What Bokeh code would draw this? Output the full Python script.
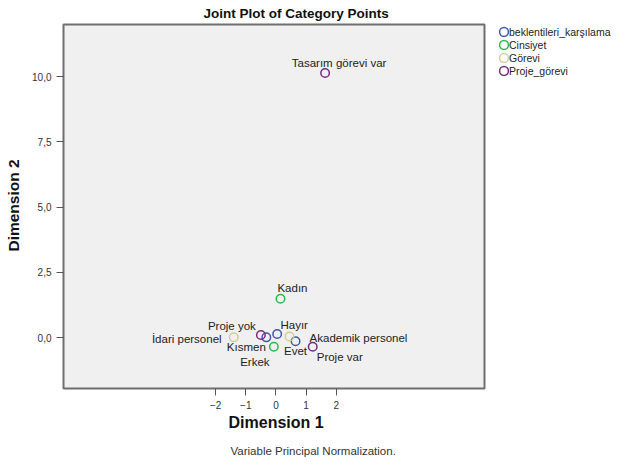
from bokeh.plotting import figure
from bokeh.models import ColumnDataSource, Range1d, FixedTicker, Legend, LegendItem, Title
from bokeh.core.properties import value
from bokeh.embed import file_html
from bokeh.resources import INLINE

# ---- data ----
variables = ["beklentileri_karşılama", "Cinsiyet", "Görevi", "Proje_görevi"]
colors = ["#3E58AC", "#2EB848", "#D3CE97", "#7C287D"]

bek_labels = ["Hayır", "Kısmen", "Evet"]
bek_d1 = [0.04, -0.32, 0.65]
bek_d2 = [0.14, 0.01, -0.14]

cin_labels = ["Kadın", "Erkek"]
cin_d1 = [0.15, -0.07]
cin_d2 = [1.49, -0.35]

gor_labels = ["İdari personel", "Akademik personel"]
gor_d1 = [-1.40, 0.45]
gor_d2 = [0.01, 0.04]

proje_labels = ["Proje yok", "Proje var", "Tasarım görevi var"]
proje_d1 = [-0.50, 1.22, 1.63]
proje_d2 = [0.10, -0.35, 10.14]

x_ticks = [-2, -1, 0, 1, 2]
y_ticks = [0, 2.5, 5, 7.5, 10]
y_tick_labels = ["0,0", "2,5", "5,0", "7,5", "10,0"]

# plot-box extent in data units (axis limits)
X_MIN, X_MAX = -7.05, 6.92
Y_MIN, Y_MAX = -1.95, 12.0

# label placement offsets (pixels) - styling only
bek_dx, bek_dy = [17, -20, 0], [-9, 10, 10]
cin_dx, cin_dy = [12, -19], [-11, 15]
gor_dx, gor_dy = [-47, 69], [2, 1]
proje_dx, proje_dy = [-29, 27, 14], [-9, 10, -10]

FONT = "Liberation Sans"

# ---- layout (pixels) ----
W, H = 613, 459
FL, FR, FT, FB = 61, 613, 20, 390          # frame edges
BL, BR, BT, BB = 63, 484, 24, 388          # plot box edges
kx = (X_MAX - X_MIN) / (BR - BL)
ky = (Y_MAX - Y_MIN) / (BB - BT)

p = figure(width=W, height=H, output_backend="svg", toolbar_location=None,
           x_range=Range1d(X_MIN - (BL - FL) * kx, X_MAX + (FR - BR) * kx),
           y_range=Range1d(Y_MIN - (FB - BB) * ky, Y_MAX + (BT - FT) * ky),
           min_border_left=FL, min_border_right=W - FR,
           min_border_top=FT, min_border_bottom=H - FB)
p.background_fill_color = "white"
p.border_fill_color = "white"
p.outline_line_color = None
p.grid.visible = False

# plot box
p.quad(left=X_MIN, right=X_MAX, bottom=Y_MIN, top=Y_MAX,
       fill_color="#F0F0F0", line_color="#6E6E6E", line_width=2)

for ax in (p.xaxis[0], p.yaxis[0]):
    ax.axis_line_color = None
    ax.major_tick_out = 5
    ax.major_tick_in = 2
    ax.major_tick_line_color = "#555555"
    ax.minor_tick_line_color = None
    ax.major_label_text_font = FONT
    ax.major_label_text_font_size = "10px"
    ax.major_label_text_color = "#333333"

p.xaxis.ticker = FixedTicker(ticks=x_ticks)
p.yaxis.ticker = FixedTicker(ticks=y_ticks)
p.yaxis.major_label_overrides = {t: l for t, l in zip(y_ticks, y_tick_labels)}
p.xaxis.major_label_standoff = 5
p.yaxis.major_label_standoff = 5
p.yaxis.axis_label = "Dimension 2"
p.yaxis.axis_label_standoff = 7
p.yaxis.axis_label_text_font = FONT
p.yaxis.axis_label_text_font_style = "bold"
p.yaxis.axis_label_text_font_size = "15.5px"
p.yaxis.axis_label_text_color = "#111111"

groups = [
    (bek_labels, bek_d1, bek_d2, bek_dx, bek_dy),
    (cin_labels, cin_d1, cin_d2, cin_dx, cin_dy),
    (gor_labels, gor_d1, gor_d2, gor_dx, gor_dy),
    (proje_labels, proje_d1, proje_d2, proje_dx, proje_dy),
]

items = []
for var, col, (labs, d1, d2, dx, dy) in zip(variables, colors, groups):
    src = ColumnDataSource(dict(d1=d1, d2=d2, label=labs, dx=dx, dy=dy))
    r = p.ellipse(x="d1", y="d2", width=8.5, height=8.5, width_units="screen",
                  height_units="screen", source=src,
                  fill_color=None, line_color=col, line_width=1.5)
    p.text(x="d1", y="d2", text="label", x_offset="dx", y_offset="dy", source=src,
           text_align="center", text_baseline="middle", text_font=value(FONT),
           text_font_size="11.5px", text_color="#222222")
    items.append(LegendItem(label=var, renderers=[r]))

legend = Legend(items=items, location=(498 - FL, FB - 25 - 52), orientation="vertical",
                glyph_width=11, glyph_height=11, label_height=13, spacing=0,
                label_standoff=0, padding=0, margin=0,
                background_fill_alpha=0, border_line_color=None,
                label_text_font=FONT, label_text_font_size="10.5px",
                label_text_color="#222222", label_text_baseline="middle")
p.add_layout(legend, "center")

title = Title(text="Joint Plot of Category Points", align="left", offset=142,
              text_font=FONT, text_font_style="bold", text_font_size="13.5px",
              text_color="#111111", standoff=0)
p.add_layout(title, "above")

xlab = Title(text="Dimension 1", align="left", offset=167,
             text_font=FONT, text_font_style="bold", text_font_size="16px",
             text_color="#111111", standoff=0)
p.add_layout(xlab, "below")

foot = Title(text="\nVariable Principal Normalization.", align="left", offset=169,
             text_font=FONT, text_font_style="normal", text_font_size="11.5px",
             text_color="#333333", standoff=0)
p.add_layout(foot, "below")

open("out.html", "w").write(file_html(p, INLINE))
